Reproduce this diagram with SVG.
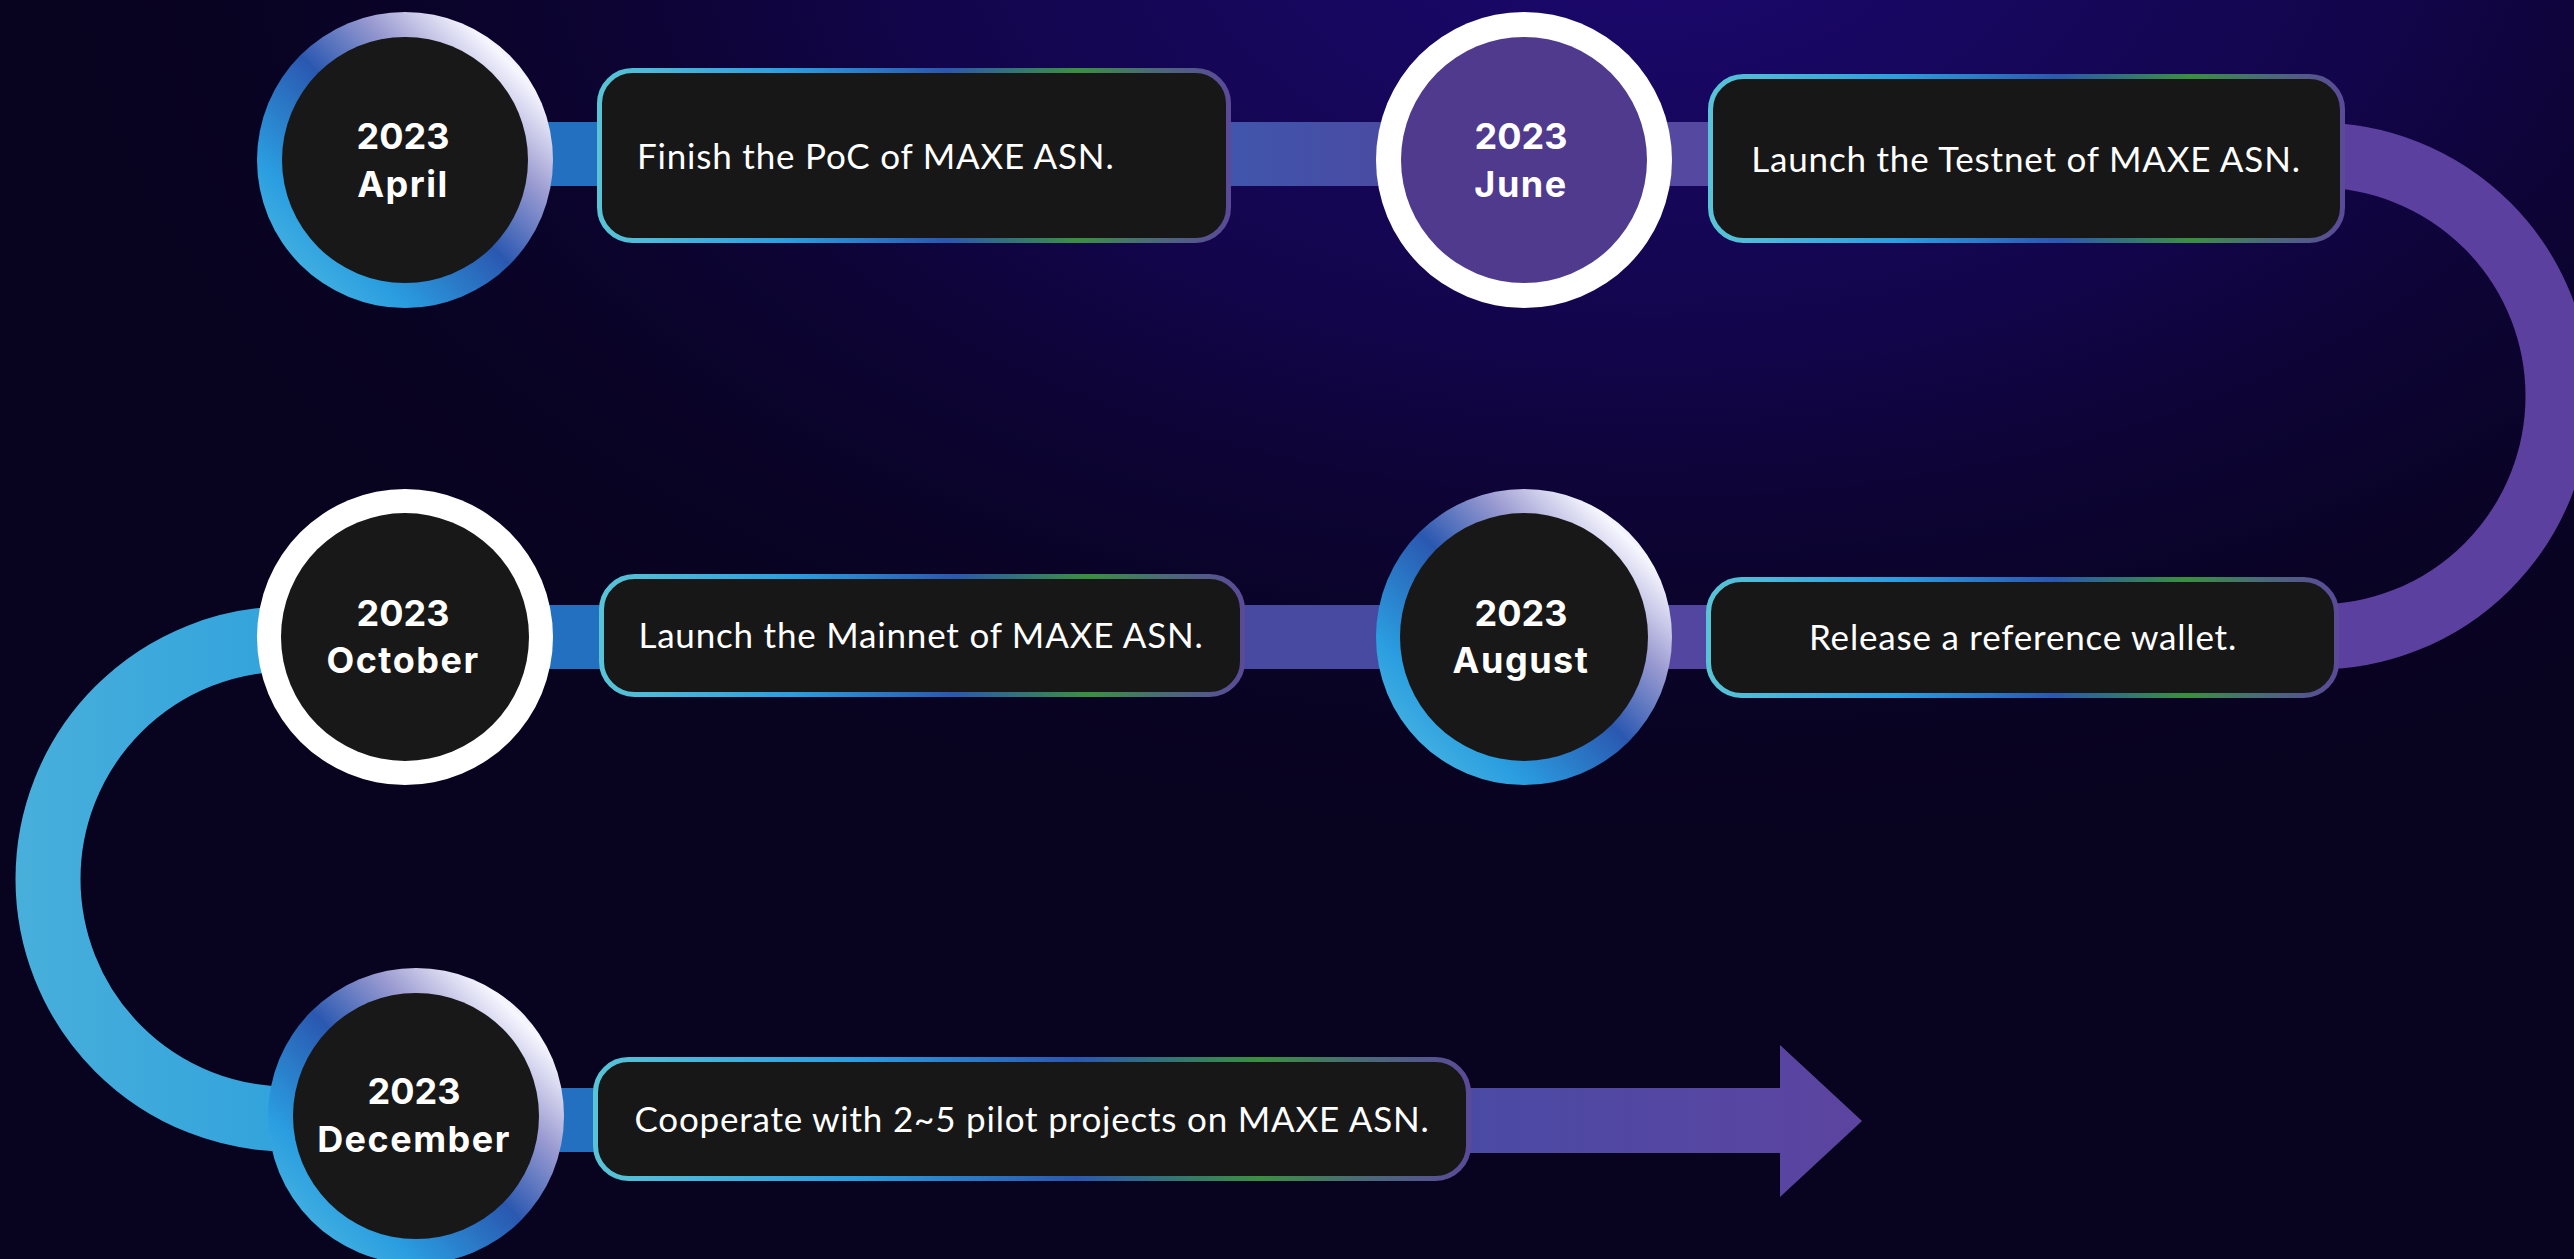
<svg xmlns="http://www.w3.org/2000/svg" width="2574" height="1259" viewBox="0 0 2574 1259">
<defs>
<radialGradient id="glow" gradientUnits="userSpaceOnUse" cx="1650" cy="-80" r="1300" gradientTransform="translate(1650 -80) scale(1.3 0.75) translate(-1650 80)">
<stop offset="0" stop-color="#1c0870"/>
<stop offset="0.45" stop-color="#12054a"/>
<stop offset="1" stop-color="#08031f" stop-opacity="0"/>
</radialGradient>
<linearGradient id="ring" x1="0" y1="1" x2="1" y2="0">
<stop offset="0" stop-color="#5cc2e0"/>
<stop offset="0.25" stop-color="#2a9ee0"/>
<stop offset="0.5" stop-color="#2a58b0"/>
<stop offset="0.68" stop-color="#9c9cd2"/>
<stop offset="0.84" stop-color="#f6f6ff"/>
<stop offset="1" stop-color="#b4acdc"/>
</linearGradient>
<linearGradient id="bord" x1="0" y1="0" x2="1" y2="0">
<stop offset="0" stop-color="#58c4d6"/>
<stop offset="0.3" stop-color="#2a9ee0"/>
<stop offset="0.55" stop-color="#2a58b0"/>
<stop offset="0.76" stop-color="#3a9040"/>
<stop offset="0.88" stop-color="#4a6a78"/>
<stop offset="1" stop-color="#5a4a98"/>
</linearGradient>
<linearGradient id="leftarc" gradientUnits="userSpaceOnUse" x1="16" y1="0" x2="420" y2="0">
<stop offset="0" stop-color="#48afdb"/>
<stop offset="1" stop-color="#279ddc"/>
</linearGradient>
<linearGradient id="mid1" x1="0" y1="0" x2="1" y2="0">
<stop offset="0" stop-color="#3f56ac"/>
<stop offset="1" stop-color="#4a4aa2"/>
</linearGradient>
<linearGradient id="arrowg" x1="0" y1="0" x2="1" y2="0">
<stop offset="0" stop-color="#4a4aa5"/>
<stop offset="1" stop-color="#5c44a0"/>
</linearGradient>
</defs>
<style>
.box{fill:#171717;stroke:url(#bord);stroke-width:5}
.desc{font-family:Lato,"Liberation Sans",sans-serif;font-size:35px;letter-spacing:0.8px;fill:#ffffff}
.mid{text-anchor:middle}
.date{font-family:Inter,"Liberation Sans",sans-serif;font-weight:700;font-size:36px;fill:#ffffff;text-anchor:middle}
.mon{letter-spacing:1.5px}
.inner{fill:#181818}
.blue{fill:#2470c0}
</style>
<rect x="0" y="0" width="2574" height="1259" fill="#08031f"/>
<rect x="0" y="0" width="2574" height="1259" fill="url(#glow)"/>

<g id="connectors">
<rect class="blue" x="540" y="122" width="70" height="64"/>
<rect x="1225" y="122" width="170" height="64" fill="url(#mid1)"/>
<rect x="1660" y="122" width="60" height="64" fill="#5448a0"/>
<path d="M2300 155 L2317 155 A241 241 0 0 1 2317 637 L2300 637" fill="none" stroke="#5b40a0" stroke-width="65"/>
<rect class="blue" x="540" y="605" width="70" height="64"/>
<rect x="1235" y="605" width="160" height="64" fill="#484aa2"/>
<rect x="1660" y="605" width="60" height="64" fill="#5246a0"/>
<path d="M300 639 L288 639 A240 240 0 0 0 288 1119 L300 1119" fill="none" stroke="url(#leftarc)" stroke-width="65"/>
<rect class="blue" x="550" y="1088" width="60" height="64"/>
<path d="M1465 1088 L1780 1088 L1780 1045 L1862 1121 L1780 1197 L1780 1153 L1465 1153 Z" fill="url(#arrowg)"/>
</g>

<g id="node-april">
<circle cx="405" cy="160" r="148" fill="url(#ring)"/>
<circle class="inner" cx="405" cy="160" r="123"/>
<text class="date" x="403" y="149">2023</text>
<text class="date mon" x="403" y="197">April</text>
</g>
<g id="box-april">
<rect class="box" x="599.5" y="70.5" width="629" height="170" rx="33"/>
<text class="desc" x="637" y="169">Finish the PoC of MAXE ASN.</text>
</g>

<g id="node-june">
<circle cx="1524" cy="160" r="148" fill="#ffffff"/>
<circle cx="1524" cy="160" r="123" fill="#4f3a8d"/>
<text class="date" x="1521" y="149">2023</text>
<text class="date mon" x="1521" y="197">June</text>
</g>
<g id="box-june">
<rect class="box" x="1710.5" y="76.5" width="632" height="164" rx="33"/>
<text class="desc mid" x="2026" y="172">Launch the Testnet of MAXE ASN.</text>
</g>

<g id="node-august">
<circle cx="1524" cy="637" r="148" fill="url(#ring)"/>
<circle class="inner" cx="1524" cy="637" r="124"/>
<text class="date" x="1521" y="626">2023</text>
<text class="date mon" x="1521" y="673">August</text>
</g>
<g id="box-august">
<rect class="box" x="1708.5" y="579.5" width="628" height="116" rx="33"/>
<text class="desc mid" x="2023" y="650">Release a reference wallet.</text>
</g>

<g id="node-october">
<circle cx="405" cy="637" r="148" fill="#ffffff"/>
<circle class="inner" cx="405" cy="637" r="124"/>
<text class="date" x="403" y="626">2023</text>
<text class="date mon" x="403" y="673">October</text>
</g>
<g id="box-october">
<rect class="box" x="601.5" y="576.5" width="641" height="118" rx="33"/>
<text class="desc mid" x="921" y="648">Launch the Mainnet of MAXE ASN.</text>
</g>

<g id="node-december">
<circle cx="416" cy="1116" r="148" fill="url(#ring)"/>
<circle class="inner" cx="416" cy="1116" r="123"/>
<text class="date" x="414" y="1104">2023</text>
<text class="date mon" x="414" y="1152">December</text>
</g>
<g id="box-december">
<rect class="box" x="595.5" y="1059.5" width="873" height="119" rx="33"/>
<text class="desc mid" x="1032" y="1132">Cooperate with 2~5 pilot projects on MAXE ASN.</text>
</g>
</svg>
